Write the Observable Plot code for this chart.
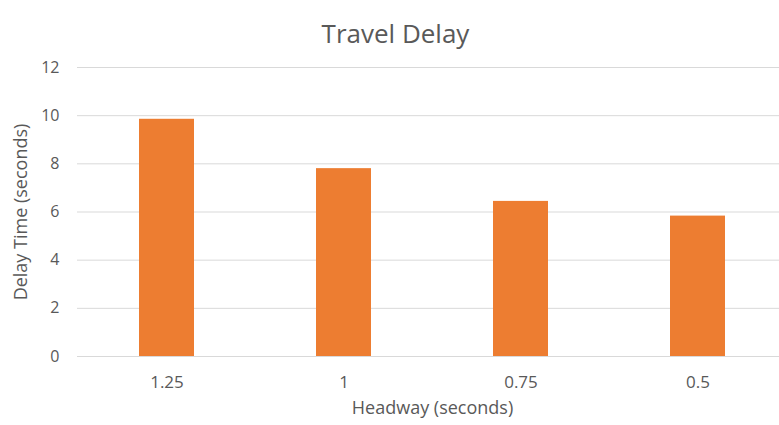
<!DOCTYPE html>
<html>
<head>
<meta charset="utf-8">
<script src="https://cdn.jsdelivr.net/npm/d3@7"></script>
<script src="https://cdn.jsdelivr.net/npm/@observablehq/plot@0.6"></script>
<style>
  body { margin: 0; background: #fff; font-family: "Open Sans", sans-serif; }
  #wrap { position: relative; width: 779px; height: 425px; }
</style>
</head>
<body>
<div id="wrap"></div>
<script>
const title = "Travel Delay";
const xLabel = "Headway (seconds)";
const yLabel = "Delay Time (seconds)";
const headways = ["1.25", "1", "0.75", "0.5"];
const delays = [9.85, 7.8, 6.44, 5.83];
const yTicks = [0, 2, 4, 6, 8, 10, 12];

const data = headways.map((h, i) => ({headway: h, delay: delays[i]}));

const chart = Plot.plot({
  width: 779,
  height: 425,
  marginTop: 67,
  marginBottom: 69,
  marginLeft: 77,
  marginRight: 0,
  style: {fontFamily: "'Open Sans', sans-serif", fontSize: "16px", color: "#595959", background: "#fff"},
  x: {type: "band", domain: headways, range: [77, 787], paddingInner: 0.688, paddingOuter: 0.344, label: null},
  y: {domain: [0, 12], label: null},
  marks: [
    Plot.ruleY(yTicks, {stroke: "#d9d9d9", strokeWidth: 1}),
    Plot.barY(data, {x: "headway", y: "delay", fill: "#ED7D31"}),
    Plot.axisY(yTicks, {tickSize: 0, tickPadding: 18, label: null, fill: "#595959", fontSize: 16}),
    Plot.axisX({tickSize: 0, tickPadding: 19, label: null, fill: "#595959", fontSize: 17}),
    Plot.text([title], {frameAnchor: "top-left", text: d => d, dx: 318, dy: -43, fontSize: 26, fill: "#595959", textAnchor: "middle"}),
    Plot.text([xLabel], {frameAnchor: "bottom-left", text: d => d, dx: 355, dy: 57, fontSize: 18, fill: "#595959", textAnchor: "middle"}),
    Plot.text([yLabel], {frameAnchor: "left", text: d => d, dx: -56, rotate: -90, fontSize: 18, fill: "#595959", textAnchor: "middle"})
  ]
});
document.getElementById("wrap").appendChild(chart);
</script>
</body>
</html>
